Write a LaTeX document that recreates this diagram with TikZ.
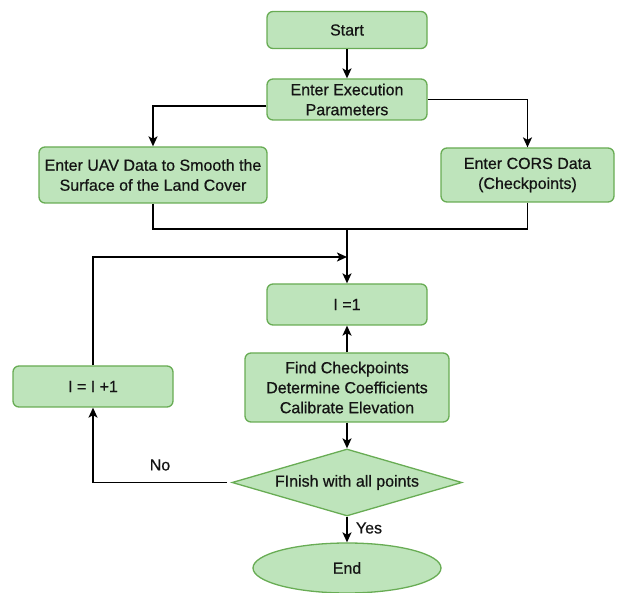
\documentclass[tikz,border=0pt]{standalone}
\usepackage{fontspec}
\setmainfont[FakeBold=0.6]{Liberation Sans}
\usetikzlibrary{shapes.geometric,arrows.meta}
\definecolor{boxfill}{RGB}{190,228,187}
\definecolor{boxline}{RGB}{104,172,84}
\definecolor{txt}{RGB}{20,20,20}
\begin{document}
\begin{tikzpicture}[x=1pt,y=-1pt,
  every node/.style={font=\fontsize{16}{20}\selectfont, text=txt},
  procbox/.style={draw=boxline, fill=boxfill, line width=1.3pt, rounded corners=6pt,
    inner sep=0pt, align=center},
  decbox/.style={draw=boxline, fill=boxfill, line width=1.3pt, diamond, aspect=3.4,
    inner sep=0pt, minimum width=230pt, minimum height=67pt},
  termbox/.style={draw=boxline, fill=boxfill, line width=1.3pt, ellipse,
    inner sep=0pt, minimum width=188pt, minimum height=50pt},
  conn/.style={line width=1.7pt, black},
  arr/.style={conn, -{Stealth[length=10pt,width=9pt,inset=2.5pt]}},
  lbl/.style={inner sep=0pt}]
\useasboundingbox (0,0) rectangle (619,593);
\node[procbox, minimum width=160pt, minimum height=37pt] (start) at (347,30) {Start};
\node[procbox, minimum width=160pt, minimum height=41pt] (params) at (347,99.5) {Enter Execution\\Parameters};
\node[procbox, minimum width=228pt, minimum height=56pt] (uav) at (153,175) {Enter UAV Data to Smooth the\\Surface of the Land Cover};
\node[procbox, minimum width=173pt, minimum height=54pt] (cors) at (527.5,175) {Enter CORS Data\\(Checkpoints)};
\node[procbox, minimum width=160pt, minimum height=41pt] (i1) at (347,304.5) {I =1};
\node[procbox, minimum width=204pt, minimum height=69pt] (find) at (347,387.5) {Find Checkpoints\\Determine Coefficients\hspace*{13pt}\\Calibrate Elevation};
\node[procbox, minimum width=160pt, minimum height=41pt] (inc) at (93,386.5) {I = I +1};
\node[decbox] (dec) at (347,482.5) {FInish with all points};
\node[termbox] (end) at (347,568) {End};
\coordinate (merge) at (347,229);
\coordinate (loopin) at (347,257);
\coordinate (nostart) at (227,482.5);
\draw[arr] (start) -- (params);
\draw[arr] ([yshift=-6.5pt]params.west) -| (uav.north);
\draw[arr] (params.east) -| (cors.north);
\draw[conn] (uav.south) |- (merge);
\draw[conn] (cors.south) |- (merge);
\draw[arr] (merge) -- (i1.north);
\draw[arr] (inc.north) |- (loopin);
\draw[arr] (find.north) -- (i1.south);
\draw[arr] (find.south) -- (dec.north);
\draw[arr] (nostart) -| (inc.south);
\draw[arr] (dec.south) -- (end.north);
\node[lbl] (nolbl) at (160,465) {No};
\node[lbl] (yeslbl) at (369,528) {Yes};
\end{tikzpicture}
\end{document}
